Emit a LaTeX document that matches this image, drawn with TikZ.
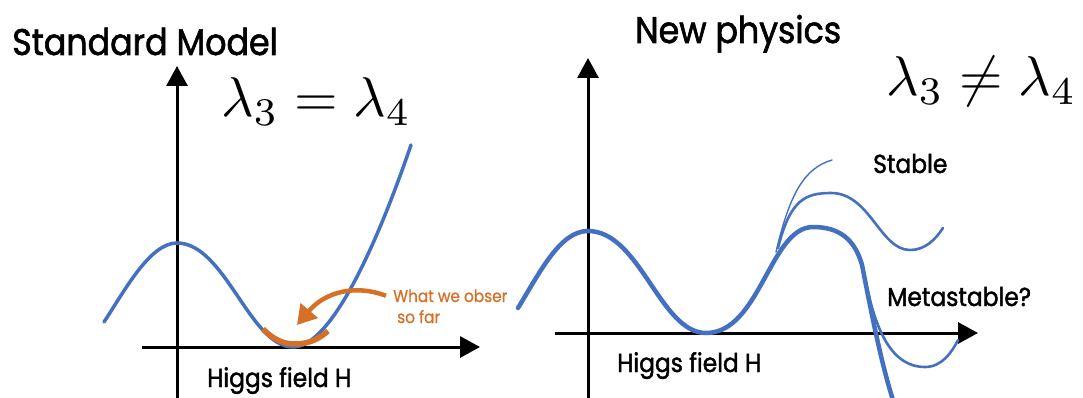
\documentclass[tikz,border=0pt]{standalone}
\usepackage{fontspec}
\newfontfamily\futura[FakeStretch=0.9, FakeBold=1.6]{Poppins}
\newfontfamily\futuralight[FakeStretch=0.9, FakeBold=0.8]{Poppins}
\usetikzlibrary{arrows.meta}
\definecolor{potblue}{HTML}{4470C2}
\definecolor{obsorange}{HTML}{D57026}

\begin{document}
\begin{tikzpicture}[x=1pt, y=-1pt,
    axis/.style={line width=3pt, -{Triangle[length=20pt, width=21pt]}},
    pot/.style={potblue, line width=3.5pt, line cap=round},
    ttl/.style={inner sep=0pt, anchor=base west, font=\futura\fontsize{37}{40}\selectfont},
    lbl/.style={inner sep=0pt, anchor=base west, font=\futura\fontsize{26}{28}\selectfont},
    obslbl/.style={inner sep=0pt, anchor=base west, obsorange, font=\futuralight\fontsize{17}{20}\selectfont}]
    \useasboundingbox (0,0) rectangle (1083,398);

    % Standard Model
    \node[ttl] (smtitle) at (12,55) {Standard Model};
    \node[inner sep=0pt, anchor=base west, scale=5.6] (smeq) at (220,117) {$\lambda_3 = \lambda_4$};
    \draw[axis] (177,400) -- (177,66);
    \draw[axis] (142,347) -- (480,347);
    \node[lbl] (smfield) at (207,387) {Higgs field H};
    \draw[pot] (104,322) .. controls (125,290) and (150,243) .. (177,243)
        .. controls (225,243) and (250,347) .. (293,347)
        .. controls (330,347) and (375,250) .. (411,145);
    \draw[obsorange, line width=5.5pt] (263,329) .. controls (275,341) and (285,344) .. (295,344)
        .. controls (310,344) and (320,338) .. (328,331);
    \node[obslbl] (obs) at (393,302) {What we obser};
    \node[obslbl] (sofar) at (397,323) {so far};
    \coordinate (seen) at (297,325);
    \draw[obsorange, line width=4.5pt, -{Triangle[length=19pt, width=22pt]}]
        ([xshift=-7pt]obs.west) .. controls (355,284) and (325,292) .. (seen);

    % New physics
    \node[ttl] (nptitle) at (635,43) {New physics};
    \node[inner sep=0pt, anchor=base west, scale=5.6] (npeq) at (885,96) {$\lambda_3 \neq \lambda_4$};
    \draw[axis] (588,400) -- (588,58);
    \draw[axis] (555,333) -- (978,333);
    \node[lbl] (npfield) at (617,372) {Higgs field H};
    \node[lbl] (stable) at (873,173) {Stable};
    \node[lbl] (meta) at (887,306) {Metastable?};
    % branches
    \draw[pot, line width=1.4pt] (776,252) .. controls (790,192) and (805,168) .. (832,160);
    \draw[pot, line width=2.6pt] (778,248) .. controls (790,200) and (805,193) .. (831,193)
        .. controls (870,193) and (880,250) .. (910,250)
        .. controls (925,250) and (935,240) .. (943,228);
    \draw[pot, line width=2.6pt] (813,227) .. controls (840,227) and (855,240) .. (862,265)
        .. controls (870,300) and (880,367) .. (925,367)
        .. controls (942,367) and (952,352) .. (958,340);
    \draw[pot, line width=4.5pt] (518,308) .. controls (540,272) and (560,231) .. (588,231)
        .. controls (640,231) and (660,333) .. (706,333)
        .. controls (760,333) and (770,227) .. (813,227)
        .. controls (840,227) and (855,240) .. (862,265)
        .. controls (868,295) and (880,360) .. (893,400);
\end{tikzpicture}
\end{document}
